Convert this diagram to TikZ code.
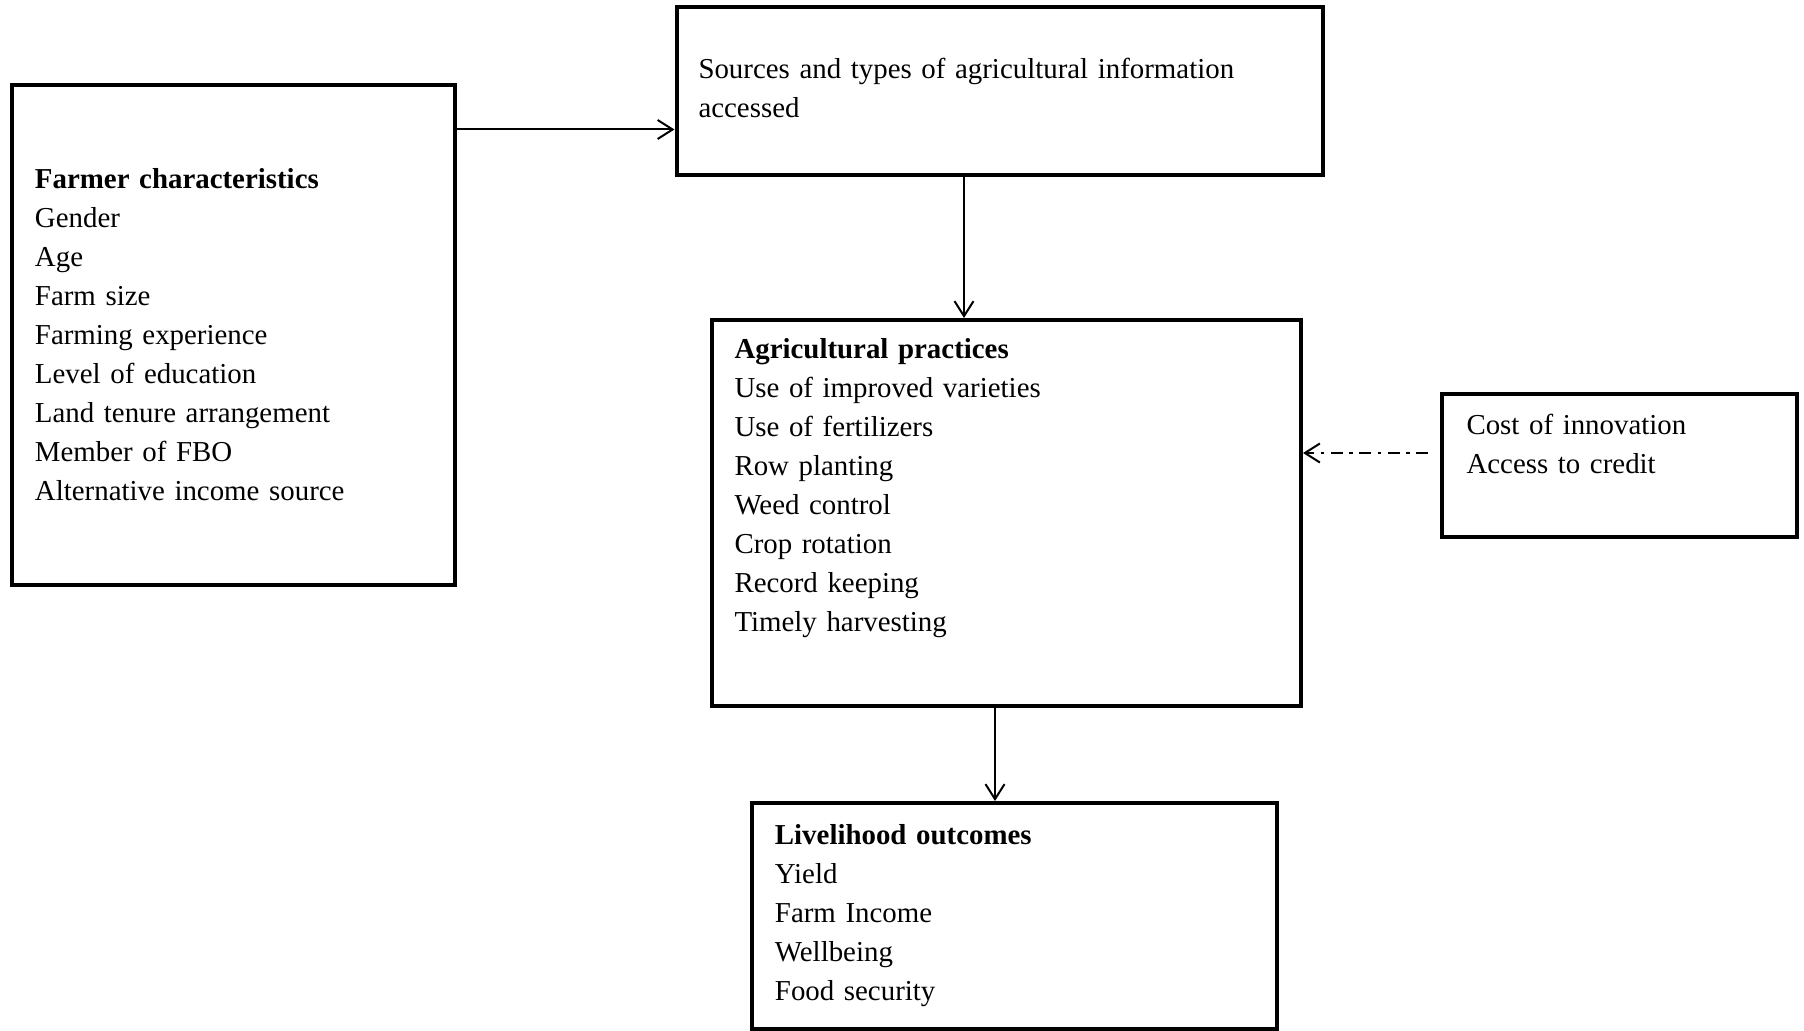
\documentclass[tikz,border=0pt]{standalone}
\usepackage{fontspec}
\setmainfont{Liberation Serif}
\usepackage{tikz}
\usetikzlibrary{arrows.meta}

\begin{document}
\begin{tikzpicture}[
    x=0.4pt, y=-0.4pt,
    kasse/.style={rectangle, draw=black, line width=1.6pt, inner sep=0pt},
    tekst/.style={anchor=base west, inner sep=0pt, align=left,
        font=\fontsize{11.55}{15.6}\selectfont},
    pil/.style={line width=0.8pt, -{Straight Barb[length=6pt, width=7.6pt]}},
    stiplet/.style={pil, dash pattern=on 4.7pt off 2.7pt on 1.3pt off 2.7pt}
]
\useasboundingbox (0,0) rectangle (1804,1031);

\node[kasse, minimum width=177.2pt, minimum height=200pt] (farmer) at (233.5,335) {};
\node[kasse, minimum width=258.6pt, minimum height=67.2pt] (sources) at (999.75,91) {};
\node[kasse, minimum width=235.6pt, minimum height=154.56pt] (practices) at (1006.5,513.2) {};
\node[kasse, minimum width=142pt, minimum height=57.5pt] (cost) at (1619.5,465.4) {};
\node[kasse, minimum width=209.8pt, minimum height=90.4pt] (outcomes) at (1014.7,916) {};

\node[tekst, text width=160pt] (farmertxt) at ([shift={(24.5,105.5)}]farmer.north west) {
    \textbf{Farmer characteristics}\\
    Gender\\
    Age\\
    Farm size\\
    Farming experience\\
    Level of education\\
    Land tenure arrangement\\
    Member of FBO\\
    Alternative income source
};
\node[tekst, text width=240pt] (sourcestxt) at ([shift={(23.5,74)}]sources.north west) {
    Sources and types of agricultural information\\
    accessed
};
\node[tekst, text width=215pt] (practicestxt) at ([shift={(24,40.5)}]practices.north west) {
    \textbf{Agricultural practices}\\
    Use of improved varieties\\
    Use of fertilizers\\
    Row planting\\
    Weed control\\
    Crop rotation\\
    Record keeping\\
    Timely harvesting
};
\node[tekst, text width=125pt] (costtxt) at ([shift={(26,43)}]cost.north west) {
    Cost of innovation\\
    Access to credit
};
\node[tekst, text width=190pt] (outcomestxt) at ([shift={(24,43)}]outcomes.north west) {
    \textbf{Livelihood outcomes}\\
    Yield\\
    Farm Income\\
    Wellbeing\\
    Food security
};

\draw[pil] ([shift={(0,46.5)}]farmer.north east) coordinate (a) -- (a -| sources.west);
\draw[pil] ([shift={(-35.75,0)}]sources.south) coordinate (b) -- (b |- practices.north);
\draw[pil] ([shift={(-11.5,0)}]practices.south) coordinate (c) -- (c |- outcomes.north);
\draw[stiplet] ([shift={(-12,-12.4)}]cost.west) coordinate (d) -- (d -| practices.east);
\end{tikzpicture}
\end{document}
